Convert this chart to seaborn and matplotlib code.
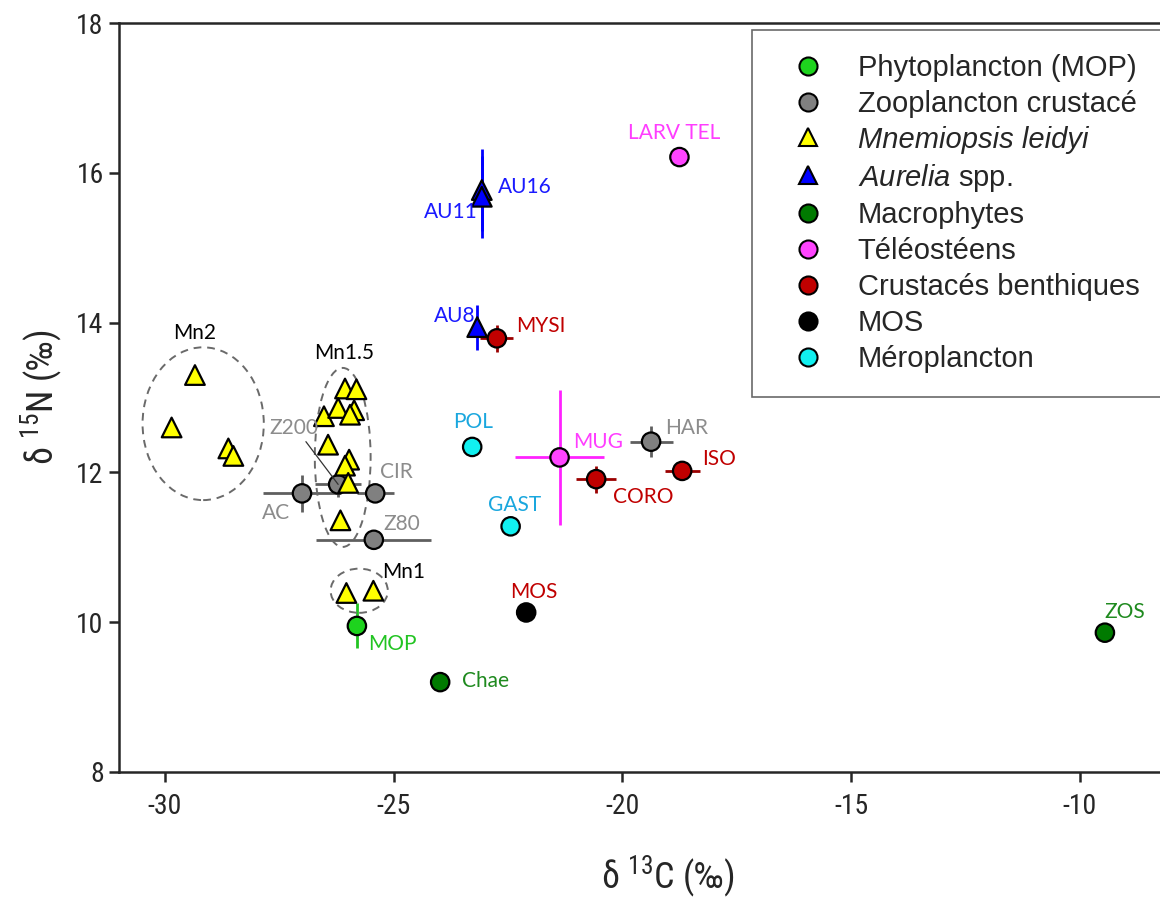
import pandas as pd
import seaborn as sns
import matplotlib.pyplot as plt
from matplotlib import font_manager
from matplotlib.lines import Line2D
from matplotlib.patches import Ellipse

# groups, in legend order
groups = ["Phytoplancton (MOP)", "Zooplancton crustacé", "Mnemiopsis leidyi", "Aurelia spp.",
          "Macrophytes", "Téléostéens", "Crustacés benthiques", "MOS", "Méroplancton"]
group_colors = ["#1ed31e", "#808080", "#ffff00", "#0000ff", "#007a00",
                "#ff44ff", "#c00000", "#000000", "#11f0f0"]
group_markers = ["o", "o", "^", "^", "o", "o", "o", "o", "o"]

# labelled points: name, group, d13C, d15N, error on C, error on N
names = ["MOP", "AC", "Z200", "CIR", "Z80", "HAR", "AU16", "AU11", "AU8",
         "Chae", "ZOS", "LARV TEL", "MUG", "MYSI", "CORO", "ISO", "MOS", "POL", "GAST"]
name_group = ["Phytoplancton (MOP)", "Zooplancton crustacé", "Zooplancton crustacé",
              "Zooplancton crustacé", "Zooplancton crustacé", "Zooplancton crustacé",
              "Aurelia spp.", "Aurelia spp.", "Aurelia spp.", "Macrophytes", "Macrophytes",
              "Téléostéens", "Téléostéens", "Crustacés benthiques", "Crustacés benthiques",
              "Crustacés benthiques", "MOS", "Méroplancton", "Méroplancton"]
d13c = [-25.80, -27.00, -26.21, -25.40, -25.43, -19.37, -23.07, -23.07, -23.17,
        -23.98, -9.45, -18.75, -21.37, -22.74, -20.57, -18.69, -22.10, -23.28, -22.44]
d15n = [9.95, 11.72, 11.84, 11.72, 11.10, 12.41, 15.77, 15.68, 13.94,
        9.20, 9.86, 16.21, 12.20, 13.79, 11.91, 12.02, 10.13, 12.34, 11.28]
c_err = [0, 0.85, 0.50, 0.40, 1.26, 0.47, 0, 0, 0,
         0, 0, 0, 0.97, 0.36, 0.44, 0.38, 0, 0, 0]
n_err = [0.30, 0.25, 0.17, 0, 0, 0.21, 0.55, 0.55, 0.30,
         0, 0, 0, 0.90, 0.18, 0.18, 0, 0, 0, 0]

# Mnemiopsis leidyi samples (no labels)
mn_c = [-29.34, -29.85, -28.61, -28.50,
        -26.06, -25.81, -26.52, -26.21, -25.86, -25.95, -26.43, -25.97, -26.06, -25.99, -26.16,
        -26.03, -25.44]
mn_n = [13.30, 12.60, 12.32, 12.22,
        13.12, 13.11, 12.75, 12.86, 12.83, 12.77, 12.37, 12.17, 12.09, 11.86, 11.36,
        10.39, 10.42]

x_ticks = [-30, -25, -20, -15, -10]
y_ticks = [8, 10, 12, 14, 16, 18]

label_colors = {"Phytoplancton (MOP)": "#22c422", "Zooplancton crustacé": "#8c8c8c",
                "Aurelia spp.": "#1a1aff", "Macrophytes": "#1f8a1f", "Téléostéens": "#ff3dff",
                "Crustacés benthiques": "#c00000", "MOS": "#c00000", "Méroplancton": "#1aa7de"}
err_colors = {"Phytoplancton (MOP)": "#22c422", "Zooplancton crustacé": "#5f5f5f",
              "Aurelia spp.": "#0000ff", "Téléostéens": "#ff22ff",
              "Crustacés benthiques": "#9a0000"}
# label offsets in pixels (dx, dy, ha)
label_pos = {"MOP": (11, -18, "left"), "AC": (-12, -20, "right"), "Z200": (-20, 56, "right"),
             "CIR": (5, 21, "left"), "Z80": (10, 16, "left"), "HAR": (14, 14, "left"),
             "AU16": (16, 3, "left"), "AU11": (-4, -15, "right"), "AU8": (-2, 11, "right"),
             "Chae": (22, 1, "left"), "ZOS": (-1, 21, "left"), "LARV TEL": (-5, 24, "center"),
             "MUG": (14, 15, "left"), "MYSI": (19, 12, "left"), "CORO": (17, -18, "left"),
             "ISO": (20, 12, "left"), "MOS": (8, 20, "center"), "POL": (1, 25, "center"),
             "GAST": (4, 21, "center")}

df = pd.DataFrame({"name": names, "group": name_group, "d13C": d13c, "d15N": d15n,
                   "cerr": c_err, "nerr": n_err})
mn = pd.DataFrame({"d13C": mn_c, "d15N": mn_n, "group": "Mnemiopsis leidyi"})

sns.set_style("ticks")
plt.rcParams["font.family"] = ["Liberation Sans", "DejaVu Sans"]
plt.rcParams["mathtext.default"] = "regular"
plt.rcParams["mathtext.fontset"] = "custom"
plt.rcParams["mathtext.it"] = "Liberation Sans:italic"
plt.rcParams["axes.unicode_minus"] = False

# a condensed face for the axes, if one is installed
avail = {f.name for f in font_manager.fontManager.ttflist}
narrow = None
for cand in ["Liberation Sans Narrow", "Arial Narrow", "Roboto Condensed", "Open Sans Condensed"]:
    if cand in avail:
        narrow = cand
        break
if narrow is None:
    for f in font_manager.fontManager.ttflist:
        if "Narrow" in f.name or "Condensed" in f.name:
            narrow = f.name
            break
if narrow is None:
    axis_font = dict(family=["Liberation Sans", "DejaVu Sans"])
    tick_size, label_size = 17.5, 23
else:
    axis_font = dict(family=[narrow, "DejaVu Sans"])
    tick_size, label_size = 20, 26

fig = plt.figure(figsize=(11.6, 8.98), dpi=100)
ax = fig.add_axes([119 / 1160, 1 - 772 / 898, (1217 - 119) / 1160, (772 - 23) / 898])

palette = dict(zip(groups, group_colors))

# error bars
for _, r in df.iterrows():
    if r.cerr > 0 or r.nerr > 0:
        ax.errorbar(r.d13C, r.d15N, xerr=r.cerr if r.cerr > 0 else None,
                    yerr=r.nerr if r.nerr > 0 else None, fmt="none",
                    ecolor=err_colors[r.group], elinewidth=2, capsize=0, zorder=1)

circ = df[df.group != "Aurelia spp."]
sns.scatterplot(data=circ, x="d13C", y="d15N", hue="group", palette=palette, marker="o",
                s=175, edgecolor="black", linewidth=1.6, legend=False, ax=ax, zorder=2)
sns.scatterplot(data=mn, x="d13C", y="d15N", hue="group", palette=palette, marker="^",
                s=200, edgecolor="black", linewidth=1.6, legend=False, ax=ax, zorder=3)
sns.scatterplot(data=df[df.group == "Aurelia spp."], x="d13C", y="d15N", hue="group",
                palette=palette, marker="^", s=200, edgecolor="black", linewidth=1.6,
                legend=False, ax=ax, zorder=3)

# point labels
lab_font = ["Lato", "DejaVu Sans"]
for _, r in df.iterrows():
    dx, dy, ha = label_pos[r["name"]]
    arrow = None
    if r["name"] == "Z200":
        arrow = dict(arrowstyle="-", color="#333333", lw=0.9, relpos=(0.7, 0.0),
                     shrinkA=0, shrinkB=0)
    ax.annotate(r["name"], (r.d13C, r.d15N), xytext=(dx, dy), textcoords="offset pixels",
                ha=ha, va="center", fontsize=15, family=lab_font,
                color=label_colors[r.group], arrowprops=arrow)

# dashed ellipses around Mnemiopsis size classes
ellipses = [("Mn2", (-29.16, 12.65), 2.65, 2.04, (-29.35, 13.86)),
            ("Mn1.5", (-26.11, 12.20), 1.22, 2.39, (-26.08, 13.59)),
            ("Mn1", (-25.75, 10.42), 1.25, 0.59, (-24.77, 10.67))]
for lab, c, w, h, tpos in ellipses:
    ax.add_patch(Ellipse(c, w, h, fill=False, ls=(0, (4, 3)), lw=1.4, ec="#6a6a6a", zorder=1))
    ax.text(tpos[0], tpos[1], lab, ha="center", va="center", fontsize=15,
            family=lab_font, color="black")

ax.set_xlim(-31.0, -7.0)
ax.set_ylim(8, 18)
ax.set_xticks(x_ticks)
ax.set_yticks(y_ticks)
ax.tick_params(axis="both", direction="out", length=7, width=1.8, labelsize=tick_size)
ax.tick_params(axis="x", pad=8)
ax.tick_params(axis="y", pad=4)
for t in ax.get_xticklabels() + ax.get_yticklabels():
    t.set_family(axis_font["family"])
ax.set_xlabel(r"δ $^{13}$C (‰)", fontsize=label_size, labelpad=24, **axis_font)
ax.set_ylabel(r"δ $^{15}$N (‰)", fontsize=label_size, labelpad=9, **axis_font)

for side in ["left", "bottom", "top"]:
    ax.spines[side].set_linewidth(1.8)
ax.spines["right"].set_visible(False)

handles = [Line2D([], [], ls="none", marker=m, markersize=13, markerfacecolor=c,
                  markeredgecolor="black", markeredgewidth=1.5)
           for c, m in zip(group_colors, group_markers)]
labels = list(groups)
labels[3] = r"$\mathit{Aurelia}$ spp."
leg = fig.legend(handles, labels, loc="upper left", bbox_to_anchor=(752 / 1160, 1 - 30 / 898),
                 frameon=True, fancybox=False, fontsize=21, handletextpad=0.6,
                 labelspacing=0.27, borderpad=0.82, handlelength=2.2, borderaxespad=0)
leg.get_frame().set_edgecolor("#444444")
leg.get_frame().set_linewidth(1.2)
leg.get_texts()[2].set_style("italic")

fig.savefig("out.png", dpi=100)
